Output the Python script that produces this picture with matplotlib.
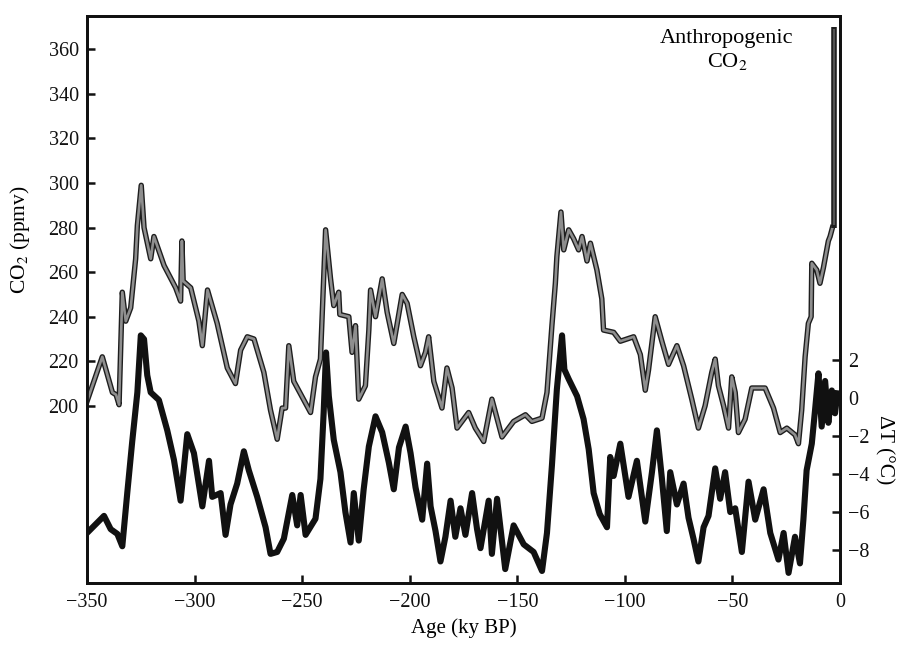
import matplotlib
matplotlib.use("Agg")
import matplotlib.pyplot as plt

plt.rcParams['font.family'] = ['Liberation Serif', 'DejaVu Serif']
plt.rcParams['mathtext.fontset'] = 'stix'

# CO2 record (ppmv) vs age (ky BP)
co2_age = [-350, -342.9, -338.2, -336.5, -335.1, -333.6, -332, -329.7, -327.4, -326.6,
           -324.8, -323.5, -320.4, -318.9, -314.2, -308.8, -306.5, -305.9, -305.3, -301.8,
           -298, -296.4, -294, -289.5, -284.8, -281, -278.6, -275.5, -272.4, -267.8,
           -264.7, -261.6, -259.3, -257.7, -256.2, -253.9, -246.1, -243.8, -241.5, -239.1,
           -236.8, -235.3, -233, -232.5, -228.3, -226.8, -225.2, -223.7, -220.6, -219,
           -218.2, -215.9, -212.8, -210.5, -207.4, -203.5, -201.2, -198.1, -195, -192.7,
           -191.2, -188.8, -185, -182.7, -180.3, -178, -175.7, -172.6, -169.5, -165.6,
           -161.8, -157.1, -151.7, -146.2, -143.2, -138.5, -136.2, -133.9, -132.3, -131.6,
           -129.7, -128.4, -126.1, -123.8, -121.5, -119.9, -117.6, -116, -113, -110.7,
           -109.9, -105.2, -102.1, -95.9, -92.8, -90.5, -89, -85.9, -82.8, -79.7,
           -75.8, -72.7, -68.9, -65.8, -62.7, -59.6, -58, -56.5, -54.1, -51.8,
           -50.3, -48.7, -47.2, -44.1, -41, -34.8, -30.9, -27.8, -24.7, -20.9,
           -19.3, -17.8, -16.2, -14.7, -13.4, -13.1, -10.8, -9.3, -7.7, -5.4,
           -4.6, -3.5]
co2_ppmv = [202, 222, 206, 205, 200.5, 251, 238, 244, 266, 281,
            299, 280, 266, 276, 263, 253, 247, 274, 256, 253,
            238, 227, 252, 237, 217, 210, 225, 231, 230, 215,
            198, 185, 199, 199, 227, 211, 197, 213, 221, 279,
            257, 245, 251, 241, 240, 224, 236, 203, 209, 234,
            252, 240, 257, 242, 228, 250, 246, 231, 218, 224,
            231, 211, 199, 217, 208, 190, 193, 197, 190, 184,
            203, 186, 193, 196, 193, 194.5, 206, 236, 255, 267,
            287, 270, 279, 275, 270, 276, 265, 273, 261, 248,
            234, 233, 229, 231, 223, 207, 216, 240, 229, 218.6,
            227, 218, 203, 190, 200, 215, 221, 209, 200, 190,
            213, 206, 188, 194, 208, 208, 199, 188, 190, 187,
            183, 198, 222, 237, 240, 264, 261, 255, 262, 274,
            276, 280]

# Temperature anomaly (deg C) vs age (ky BP)
t_age = [-350, -342.1, -339, -335.9, -333.6, -331.3, -329, -326.6, -325, -323.5,
         -322, -320.4, -316.6, -312.7, -309.6, -306.5, -303.4, -300.3, -296.4, -293.3,
         -291.8, -287.9, -285.6, -283.3, -280.2, -277.1, -274.8, -270.9, -267, -264.7,
         -261.6, -258.5, -254.6, -252.3, -250.7, -248.4, -243.8, -241.5, -240, -238.9,
         -237.6, -235.3, -232.2, -229.9, -227.5, -226, -223.7, -221.4, -219, -215.9,
         -212.8, -209.7, -207.4, -205, -201.9, -199.6, -197.3, -194.2, -191.9, -190.3,
         -188, -185.7, -183.4, -181, -178.8, -176.4, -174.1, -171, -168.7, -167.1,
         -163.3, -161.8, -159.4, -155.6, -151.7, -147, -142.4, -138.5, -136.2, -133.9,
         -131.6, -129.2, -128.1, -126.1, -122.2, -119.2, -116.8, -114.5, -111.7, -108.3,
         -106.8, -105.2, -102.1, -98.3, -94.4, -90.5, -87.4, -85.1, -82.8, -80.5,
         -78.9, -75.8, -72.7, -70.4, -68.1, -65.8, -63.4, -61.1, -58, -55.7,
         -53.4, -51, -48.7, -45.6, -42.5, -39.4, -35.5, -32.4, -28.6, -26.2,
         -23.9, -20.9, -18.6, -17, -15.5, -13.1, -11.6, -10, -8.5, -6.9,
         -5.4, -3.8, -2.3, -1.2]
t_delta = [-7.1, -6.2, -6.9, -7.15, -7.8, -5.0, -2.3, 0.3, 3.3, 3.1,
           1.2, 0.3, -0.1, -1.7, -3.25, -5.4, -1.9, -2.9, -5.7, -3.3,
           -5.2, -5.0, -7.2, -5.6, -4.5, -2.8, -3.8, -5.2, -6.8, -8.2,
           -8.1, -7.4, -5.1, -6.7, -5.1, -7.2, -6.35, -4.25, -0.75, 2.4,
           0.1, -2.2, -3.9, -6.0, -7.6, -5.0, -7.5, -4.8, -2.55, -0.96,
           -1.8, -3.4, -4.8, -2.6, -1.5, -2.9, -4.7, -6.4, -3.45, -5.7,
           -7.0, -8.6, -7.3, -5.4, -7.3, -5.8, -7.2, -5.0, -6.9, -7.9,
           -5.4, -8.2, -5.3, -9.0, -6.7, -7.7, -8.1, -9.1, -7.1, -3.55,
           0.46, 3.3, 1.5, 1.0, 0.1, -1.1, -2.7, -5.0, -6.1, -6.8,
           -3.1, -4.1, -2.4, -5.2, -3.3, -6.5, -3.9, -1.7, -4.2, -7.0,
           -3.9, -5.6, -4.5, -6.3, -7.4, -8.6, -6.8, -6.2, -3.7, -5.3,
           -3.9, -6.0, -5.8, -8.1, -4.4, -6.4, -4.8, -7.1, -8.5, -7.1,
           -9.2, -7.3, -8.7, -6.4, -3.8, -2.4, -0.65, 1.3, -1.5, 0.9,
           -1.3, 0.4, -0.8, 0.25]

# Anthropogenic CO2 bar
anthro_age = -3.0
anthro_range = [280, 370]

co2_ticks = [200, 220, 240, 260, 280, 300, 320, 340, 360]
t_ticks = [-8, -6, -4, -2, 0, 2]
x_ticks = [-350, -300, -250, -200, -150, -100, -50, 0]

fig = plt.figure(figsize=(9.16, 6.47), dpi=100)
ax = fig.add_axes([0.095, 0.099, 0.822, 0.876])

# CO2: dark outline with grey core
ax.plot(co2_age, co2_ppmv, color='#1e1e1e', lw=3.9, zorder=3)
ax.plot(co2_age, co2_ppmv, color='#8e8e8e', lw=1.9, zorder=4)
ax.plot([anthro_age, anthro_age], anthro_range, color='#1e1e1e', lw=4.0,
        solid_capstyle='butt', zorder=5)
ax.plot([anthro_age, anthro_age], [anthro_range[0] + 1, anthro_range[1] - 1],
        color='#555555', lw=1.6, solid_capstyle='butt', zorder=6)

ax.set_xlim(-350, 0)
ax.set_ylim(120.5, 374.9)
ax.set_xticks(x_ticks)
ax.set_yticks(co2_ticks)
ax.set_xlabel('Age (ky BP)', fontsize=15, labelpad=5)
ax.set_ylabel('CO$_2$ (ppmv)', fontsize=15.5)
ax.yaxis.set_label_coords(-0.073, 0.605)

ax2 = ax.twinx()
ax2.plot(t_age, t_delta, color='#111111', lw=4.4, zorder=3)
ax2.set_ylim(-9.73, 20.1)
ax2.set_yticks(t_ticks)
ax2.set_ylabel('ΔT (°C)', fontsize=15.5, rotation=270, labelpad=0)
ax2.yaxis.set_label_coords(1.072, 0.235)

for a in (ax, ax2):
    for s in a.spines.values():
        s.set_linewidth(2.0)
        s.set_color('#111111')
ax.tick_params(axis='both', direction='in', length=6, width=1.8, labelsize=14.5,
               pad=6, colors='#111111')
ax2.tick_params(axis='y', direction='in', length=6, width=1.8, labelsize=14.5,
                pad=6, colors='#111111')
ax.tick_params(axis='x', pad=7)

ax.text(0.85, 0.978, 'Anthropogenic\nCO$_2$', transform=ax.transAxes,
        ha='center', va='top', fontsize=16, linespacing=1.2)

fig.savefig('out.png', dpi=100)
